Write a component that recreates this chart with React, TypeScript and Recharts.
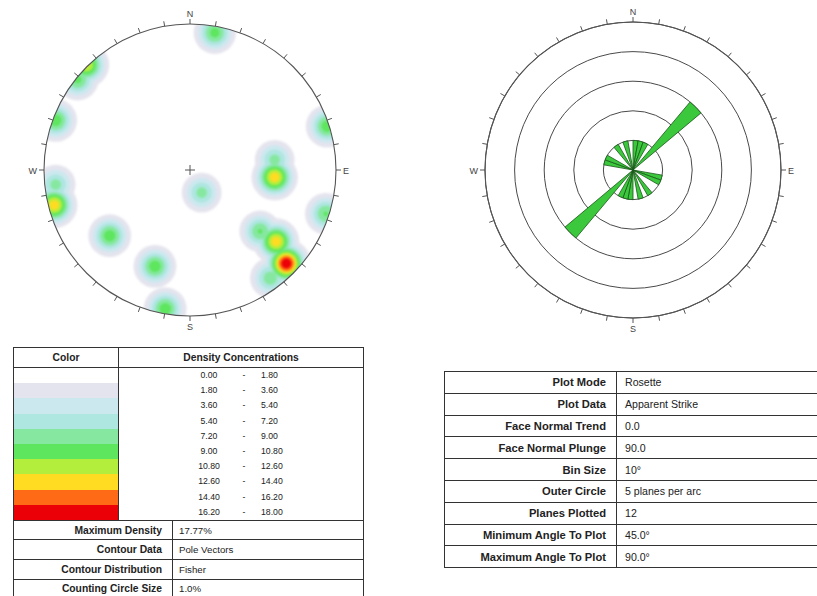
import {
  PolarAngleAxis,
  PolarGrid,
  PolarRadiusAxis,
  Radar,
  RadarChart,
  RadialBar,
  RadialBarChart,
  Scatter,
  ScatterChart,
  XAxis,
  YAxis,
} from "recharts";

// compass ticks every 10 degrees, clockwise from north
const compassDegrees = [
  0, 10, 20, 30, 40, 50, 60, 70, 80, 90, 100, 110, 120, 130, 140, 150, 160, 170,
  180, 190, 200, 210, 220, 230, 240, 250, 260, 270, 280, 290, 300, 310, 320, 330, 340, 350,
];
const compassLabels: Record<number, string> = { 0: "N", 90: "E", 180: "S", 270: "W" };

// rosette: apparent strike, 10 degree bins (start of bin) and planes per bin
const roseBins = compassDegrees;
const rosePlanes = [
  1, 1, 1, 0, 3, 0, 0, 0, 0, 0, 1, 1, 0, 0, 1, 0, 1, 0,
  1, 1, 1, 0, 3, 0, 0, 0, 0, 0, 1, 1, 0, 0, 1, 0, 1, 0,
];

// density contour classes (%)
const densityBounds = [0, 1.8, 3.6, 5.4, 7.2, 9.0, 10.8, 12.6, 14.4, 16.2, 18.0];
const densityColors = [
  "#ffffff", "#e4e4ee", "#cce8ef", "#aee6e0", "#86e8a0",
  "#5ee65e", "#b4ee3c", "#ffdc22", "#ff6a16", "#ec0008",
];

// pole concentrations on the net: east / north in net radii, peak density %
const poleEast = [0.17, -0.71, -0.77, -0.92, -0.93, -0.92, 0.08, 0.58, 0.58, 0.94, 0.93, 0.59, 0.66, 0.55, 0.48, -0.55, -0.24, -0.17];
const poleNorth = [0.94, 0.72, 0.62, 0.34, -0.24, -0.1, -0.155, -0.05, 0.07, 0.3, -0.3, -0.49, -0.64, -0.74, -0.42, -0.45, -0.66, -0.95];
const polePeak = [9.8, 12.8, 9.5, 10.2, 13.8, 8.0, 8.0, 13.8, 8.0, 10.2, 9.2, 13.8, 17.77, 8.5, 9.2, 10.2, 10.2, 10.2];

const densityInfoLabels = ["Maximum Density", "Contour Data", "Contour Distribution", "Counting Circle Size"];
const densityInfoValues = ["17.77%", "Pole Vectors", "Fisher", "1.0%"];

const roseInfoLabels = [
  "Plot Mode", "Plot Data", "Face Normal Trend", "Face Normal Plunge", "Bin Size",
  "Outer Circle", "Planes Plotted", "Minimum Angle To Plot", "Maximum Angle To Plot",
];
const roseInfoValues = [
  "Rosette", "Apparent Strike", "0.0", "90.0", "10°",
  "5 planes per arc", "12", "45.0°", "90.0°",
];

const frameData = compassDegrees.map((deg) => ({ deg, zero: 0 }));
const roseData = roseBins.map((bin, i) => ({ bin, planes: rosePlanes[i] }));
const poles = poleEast.map((east, i) => ({ east, north: poleNorth[i], peak: polePeak[i] }));

const FONT = "'Liberation Sans', Arial, sans-serif";
const NET_R = 146;
const ROSE_R = 148;
const SIGMA = 11.5; // kernel spread in px
const NO_MARGIN = { top: 0, right: 0, bottom: 0, left: 0 };

function CompassTick(props: any) {
  const { x, y, payload, textAnchor } = props;
  const label = compassLabels[payload.value];
  if (!label) return <g />;
  const dy = label === "N" ? -2 : label === "S" ? 9 : 3.5;
  const dx = label === "E" ? 2 : label === "W" ? -2 : 0;
  return (
    <text x={x + dx} y={y + dy} textAnchor={textAnchor} fontSize={9} fill="#444" fontFamily={FONT}>
      {label}
    </text>
  );
}

function CompassFrame({ left, radius }: { left: number; radius: number }) {
  return (
    <div style={{ position: "absolute", left, top: 0 }}>
      <RadarChart
        width={380}
        height={340}
        cx={190}
        cy={170}
        outerRadius={radius}
        startAngle={90}
        endAngle={-270}
        data={frameData}
        margin={NO_MARGIN}
      >
        <PolarAngleAxis
          dataKey="deg"
          type="category"
          axisLineType="circle"
          axisLine={{ stroke: "#555", strokeWidth: 1.1 }}
          tickLine={{ stroke: "#555" }}
          tickSize={5}
          tick={CompassTick}
        />
        <Radar dataKey="zero" stroke="none" fill="none" isAnimationActive={false} />
      </RadarChart>
    </div>
  );
}

// one filled contour per density class
const contourShape = (level: number, color: string) => (props: any) => {
  const { cx, cy, payload } = props;
  if (payload.peak <= level) return <g />;
  const r = SIGMA * Math.sqrt(2 * Math.log(payload.peak / level));
  return <circle cx={cx} cy={cy} r={r} fill={color} />;
};

const centreCross = (props: any) => {
  const { cx, cy } = props;
  return (
    <g stroke="#555" strokeWidth={1}>
      <line x1={cx - 5} y1={cy} x2={cx + 5} y2={cy} />
      <line x1={cx} y1={cy - 5} x2={cx} y2={cy + 5} />
    </g>
  );
};

function DensityNet() {
  const box = { position: "absolute" as const, left: 190 - NET_R, top: 170 - NET_R };
  return (
    <>
      <div
        style={{
          ...box,
          width: NET_R * 2,
          height: NET_R * 2,
          filter: "blur(1.3px)",
          clipPath: `circle(${NET_R}px at ${NET_R}px ${NET_R}px)`,
        }}
      >
        <ScatterChart width={NET_R * 2} height={NET_R * 2} margin={NO_MARGIN}>
          <XAxis type="number" dataKey="east" domain={[-1, 1]} hide />
          <YAxis type="number" dataKey="north" domain={[-1, 1]} hide />
          {densityBounds.slice(1, -1).map((level, i) => (
            <Scatter
              key={level}
              data={poles}
              shape={contourShape(level, densityColors[i + 1])}
              isAnimationActive={false}
            />
          ))}
        </ScatterChart>
      </div>
      <div style={box}>
        <ScatterChart width={NET_R * 2} height={NET_R * 2} margin={NO_MARGIN}>
          <XAxis type="number" dataKey="east" domain={[-1, 1]} hide />
          <YAxis type="number" dataKey="north" domain={[-1, 1]} hide />
          <Scatter data={[{ east: 0, north: 0 }]} shape={centreCross} isAnimationActive={false} />
        </ScatterChart>
      </div>
      <CompassFrame left={0} radius={NET_R} />
    </>
  );
}

function Rosette() {
  // band angles start one bin early in centric layout, so the sweep is turned by one bin
  return (
    <>
      <div style={{ position: "absolute", left: 443, top: 0 }}>
        <RadialBarChart
          width={380}
          height={340}
          cx={190}
          cy={170}
          innerRadius={0}
          outerRadius={ROSE_R}
          startAngle={80}
          endAngle={-280}
          layout="centric"
          data={roseData}
          barCategoryGap={0}
          barGap={0}
          margin={NO_MARGIN}
        >
          <PolarGrid gridType="circle" radialLines={false} stroke="#4a4a4a" strokeWidth={1} />
          <PolarAngleAxis type="category" dataKey="bin" tick={false} tickLine={false} axisLine={false} />
          <PolarRadiusAxis type="number" domain={[0, 5]} tickCount={6} tick={false} axisLine={false} />
          <RadialBar
            dataKey="planes"
            fill="#3cc83c"
            stroke="#185818"
            strokeWidth={0.8}
            isAnimationActive={false}
          />
        </RadialBarChart>
      </div>
      <CompassFrame left={443} radius={ROSE_R} />
    </>
  );
}

const cell = { border: "1.5px solid #333", padding: 0 };

function DensityTable() {
  const rowH = 15.2;
  return (
    <table
      style={{
        position: "absolute",
        left: 13,
        top: 347,
        width: 350,
        borderCollapse: "collapse",
        tableLayout: "fixed",
        fontFamily: FONT,
        fontSize: 9.7,
        color: "#222",
      }}
    >
      <colgroup>
        <col style={{ width: 105 }} />
        <col style={{ width: 54 }} />
        <col style={{ width: 191 }} />
      </colgroup>
      <tbody>
        <tr style={{ height: 20 }}>
          <td style={{ ...cell, textAlign: "center", fontWeight: 700, fontSize: 10.3 }}>Color</td>
          <td colSpan={2} style={{ ...cell, textAlign: "center", fontWeight: 700, fontSize: 10.3 }}>
            Density Concentrations
          </td>
        </tr>
        <tr>
          <td style={{ ...cell, verticalAlign: "top" }}>
            {densityColors.map((c) => (
              <div key={c} style={{ height: rowH, background: c }} />
            ))}
          </td>
          <td colSpan={2} style={{ ...cell, verticalAlign: "top", fontSize: 8.7 }}>
            {densityColors.map((c, i) => (
              <div key={c} style={{ position: "relative", height: rowH, lineHeight: `${rowH}px` }}>
                <span style={{ position: "absolute", left: 68, width: 44, textAlign: "center" }}>
                  {densityBounds[i].toFixed(2)}
                </span>
                <span style={{ position: "absolute", left: 121, width: 8, textAlign: "center" }}>-</span>
                <span style={{ position: "absolute", left: 142 }}>{densityBounds[i + 1].toFixed(2)}</span>
              </div>
            ))}
          </td>
        </tr>
        {densityInfoLabels.map((label, i) => (
          <tr key={label} style={{ height: 19.6 }}>
            <td
              colSpan={2}
              style={{ ...cell, textAlign: "right", paddingRight: 10, fontWeight: 700, fontSize: 10.3 }}
            >
              {label}
            </td>
            <td style={{ ...cell, paddingLeft: 6 }}>{densityInfoValues[i]}</td>
          </tr>
        ))}
      </tbody>
    </table>
  );
}

function RoseTable() {
  return (
    <table
      style={{
        position: "absolute",
        left: 444,
        top: 371,
        width: 374,
        borderCollapse: "collapse",
        tableLayout: "fixed",
        fontFamily: FONT,
        color: "#222",
      }}
    >
      <colgroup>
        <col style={{ width: 172 }} />
        <col style={{ width: 202 }} />
      </colgroup>
      <tbody>
        {roseInfoLabels.map((label, i) => (
          <tr key={label} style={{ height: 21.8 }}>
            <td style={{ ...cell, textAlign: "right", paddingRight: 10, fontWeight: 700, fontSize: 11.2 }}>
              {label}
            </td>
            <td style={{ ...cell, paddingLeft: 8, fontSize: 10.6 }}>{roseInfoValues[i]}</td>
          </tr>
        ))}
      </tbody>
    </table>
  );
}

export default function App() {
  return (
    <div
      style={{
        position: "absolute",
        left: 0,
        top: 0,
        width: 817,
        height: 596,
        overflow: "hidden",
        background: "#fff",
      }}
    >
      <DensityNet />
      <Rosette />
      <DensityTable />
      <RoseTable />
    </div>
  );
}
